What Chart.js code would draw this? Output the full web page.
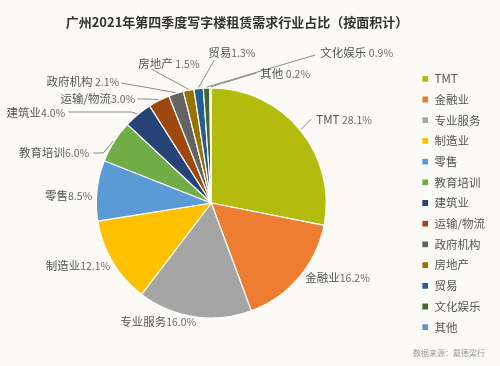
<!DOCTYPE html>
<html>
<head>
<meta charset="utf-8">
<script src="https://cdn.jsdelivr.net/npm/chart.js@4/dist/chart.umd.min.js"></script>
<style>
  html, body { margin: 0; padding: 0; background: #fbfaf6; }
  #wrap { width: 500px; height: 366px; position: relative; }
</style>
</head>
<body>
<div id="wrap"><canvas id="c" width="500" height="366"></canvas></div>
<script>
const TITLE = '广州2021年第四季度写字楼租赁需求行业占比（按面积计）';
const SOURCE = '数据来源：戴德梁行';
const categories = ['TMT', '金融业', '专业服务', '制造业', '零售', '教育培训', '建筑业', '运输/物流', '政府机构', '房地产', '贸易', '文化娱乐', '其他'];
const shares = [28.1, 16.2, 16.0, 12.1, 8.5, 6.0, 4.0, 3.0, 2.1, 1.5, 1.3, 0.9, 0.2];
const sliceColors = ['#b3bc0c', '#ed7d31', '#a5a5a5', '#ffc000', '#5b9bd5', '#70ad47', '#264478', '#9e480e', '#636363', '#997300', '#255e91', '#43682b', '#698ed0'];
const labelNames = ['TMT ', '金融业', '专业服务', '制造业', '零售', '教育培训', '建筑业', '运输/物流', '政府机构 ', '房地产 ', '贸易', '文化娱乐 ', '其他 '];

// label placement (offsets from pie centre, px) and leader-line end points
const labelLayout = [
  {dx: 105, dy: -83, align: 'left', line: [100, -84]},
  {dx: 94, dy: 75, align: 'left', line: null},
  {dx: -15, dy: 119, align: 'right', line: null},
  {dx: -101, dy: 63, align: 'right', line: null},
  {dx: -119, dy: -7, align: 'right', line: null},
  {dx: -122, dy: -50, align: 'right', line: [-118, -50, -108, -50]},
  {dx: -146, dy: -90, align: 'right', line: [-143, -91, -80, -91]},
  {dx: -76, dy: -104, align: 'right', line: [-74, -104, -64, -104]},
  {dx: -92, dy: -121, align: 'right', line: [-90, -120]},
  {dx: -73, dy: -139, align: 'left', line: [-60, -134]},
  {dx: -3, dy: -150, align: 'left', line: [3, -143]},
  {dx: 109, dy: -150, align: 'left', line: [104, -148]},
  {dx: 49, dy: -129, align: 'left', line: [45, -130]}
];

const FONT = '"Noto Sans CJK SC", "Noto Sans", sans-serif';

const bgPlugin = {
  id: 'bg',
  beforeDraw(chart) {
    const ctx = chart.ctx;
    ctx.save();
    ctx.fillStyle = '#fbfaf6';
    ctx.fillRect(0, 0, chart.width, chart.height);
    ctx.restore();
  }
};

const decoPlugin = {
  id: 'deco',
  afterDraw(chart) {
    const ctx = chart.ctx;
    const meta = chart.getDatasetMeta(0);
    ctx.save();
    // title
    ctx.fillStyle = '#333333';
    ctx.font = 'bold 13px ' + FONT;
    ctx.textAlign = 'center';
    ctx.textBaseline = 'middle';
    ctx.fillText(TITLE, 237, 22);
    // source
    ctx.fillStyle = '#9a9a9a';
    ctx.font = '8px ' + FONT;
    ctx.textAlign = 'left';
    ctx.fillText(SOURCE, 413, 353);
    // slice labels
    meta.data.forEach((arc, i) => {
      const p = arc.getProps(['x', 'y', 'startAngle', 'endAngle', 'outerRadius'], true);
      const lay = labelLayout[i];
      const mid = (p.startAngle + p.endAngle) / 2;
      const ax = p.x + Math.cos(mid) * (p.outerRadius + 1);
      const ay = p.y + Math.sin(mid) * (p.outerRadius + 1);
      if (lay.line) {
        ctx.strokeStyle = '#8c8c8c';
        ctx.lineWidth = 1;
        ctx.beginPath();
        ctx.moveTo(ax, ay);
        for (let k = lay.line.length - 2; k >= 0; k -= 2) {
          ctx.lineTo(p.x + lay.line[k], p.y + lay.line[k + 1]);
        }
        ctx.stroke();
      }
      const tx = p.x + lay.dx, ty = p.y + lay.dy;
      const name = labelNames[i];
      const val = shares[i].toFixed(1) + '%';
      ctx.font = '11.5px ' + FONT;
      const nw = ctx.measureText(name).width;
      ctx.font = '10.5px ' + FONT;
      const vw = ctx.measureText(val).width;
      const total = nw + vw;
      const x0 = lay.align === 'left' ? tx : tx - total;
      ctx.fillStyle = '#555555';
      ctx.textAlign = 'left';
      ctx.textBaseline = 'middle';
      ctx.font = '11.5px ' + FONT;
      ctx.fillText(name, x0, ty);
      ctx.fillStyle = '#6a6a6a';
      ctx.font = '10.5px ' + FONT;
      ctx.fillText(val, x0 + nw, ty + 0.5);
    });
    ctx.restore();
  }
};

new Chart(document.getElementById('c'), {
  type: 'pie',
  data: {
    labels: categories,
    datasets: [{
      data: shares,
      backgroundColor: sliceColors,
      borderColor: '#ffffff',
      borderWidth: 1.2,
      radius: 115
    }]
  },
  options: {
    responsive: false,
    animation: false,
    layout: { padding: { top: 40, bottom: 0, left: 10, right: 5 } },
    plugins: {
      title: { display: false },
      tooltip: { enabled: false },
      legend: {
        display: true,
        position: 'right',
        fullSize: false,
        labels: {
          boxWidth: 7,
          boxHeight: 7,
          padding: 9.2,
          color: '#555555',
          font: { size: 11.5, family: FONT }
        }
      }
    }
  },
  plugins: [bgPlugin, decoPlugin]
});
</script>
</body>
</html>
